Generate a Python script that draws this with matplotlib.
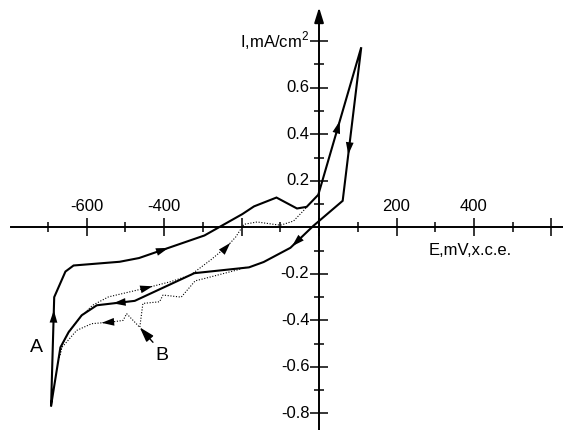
import matplotlib
matplotlib.use("Agg")
import matplotlib.pyplot as plt
from matplotlib.ticker import FixedLocator, NullFormatter

plt.rcParams["font.family"] = ["Liberation Sans", "DejaVu Sans"]
plt.rcParams["mathtext.fontset"] = "custom"
plt.rcParams["mathtext.rm"] = "Liberation Sans"

# curve A (solid), one closed sweep
a_E = [-692, -684, -655, -634, -515, -465, -296, -198, -168, -110, -57, -32, -2, 109,
       61, -15, -74, -143, -181, -322, -476, -574, -613, -647, -668, -692]
a_I = [-0.765, -0.30, -0.19, -0.164, -0.148, -0.132, -0.035, 0.057, 0.09, 0.128, 0.081, 0.088, 0.14, 0.774,
       0.114, 0.006, -0.088, -0.149, -0.172, -0.197, -0.316, -0.335, -0.378, -0.451, -0.516, -0.765]

# curve B (dotted), forward branch
b_fwd_E = [-671, -662, -645, -613, -585, -544, -450, -382, -331, -279, -237, -215, -198, -194,
           -160, -100, -66, -32]
b_fwd_I = [-0.56, -0.50, -0.445, -0.38, -0.335, -0.299, -0.262, -0.233, -0.204, -0.139, -0.081, -0.041,
           0.003, 0.013, 0.023, 0.009, 0.027, 0.086]

# curve B (dotted), reverse branch
b_rev_E = [-190, -211, -296, -320, -356, -403, -412, -455, -463, -497, -506, -536, -587, -626, -664, -671]
b_rev_I = [-0.172, -0.183, -0.22, -0.23, -0.30, -0.291, -0.32, -0.327, -0.43, -0.371, -0.40, -0.407,
           -0.414, -0.443, -0.516, -0.56]

x_major = [-600, -400, -200, 0, 200, 400, 600]
x_minor = [-700, -500, -300, -100, 100, 300, 500]
x_labels = {-600: "-600", -400: "-400", 200: "200", 400: "400"}
y_major = [-0.8, -0.6, -0.4, -0.2, 0.2, 0.4, 0.6, 0.8]
y_minor = [-0.7, -0.5, -0.3, -0.1, 0.1, 0.3, 0.5, 0.7]
y_labels = {-0.8: "-0.8", -0.6: "-0.6", -0.4: "-0.4", -0.2: "-0.2",
            0.2: "0.2", 0.4: "0.4", 0.6: "0.6", 0.8: "I,mA/cm$^2$"}

fig = plt.figure(figsize=(5.63, 4.30), dpi=100)
ax = fig.add_axes([0, 0, 1, 1])
ax.set_xlim(-824, 630)
ax.set_ylim(-0.871, 0.977)

ax.plot(a_E, a_I, color="black", lw=1.5, solid_joinstyle="miter")
ax.plot(b_fwd_E, b_fwd_I, color="black", lw=0.8, ls=(0, (1, 1.5)))
ax.plot(b_rev_E, b_rev_I, color="black", lw=0.8, ls=(0, (1, 1.5)))


def head(E, I, i, t):
    # arrow head along segment i of a curve, tip at fraction t
    x0, y0, x1, y1 = E[i], I[i], E[i + 1], I[i + 1]
    tip = (x0 + t * (x1 - x0), y0 + t * (y1 - y0))
    tail = (tip[0] - 0.02 * (x1 - x0), tip[1] - 0.02 * (y1 - y0))
    ax.annotate("", xy=tip, xytext=tail,
                arrowprops=dict(arrowstyle="-|>,head_length=0.9,head_width=0.28",
                                color="black", lw=0, shrinkA=0, shrinkB=0,
                                mutation_scale=10))


head(a_E, a_I, 0, 0.88)
head(a_E, a_I, 5, 0.45)
head(a_E, a_I, 12, 0.5)
head(a_E, a_I, 13, 0.70)
head(a_E, a_I, 15, 0.93)
head(a_E, a_I, 20, 0.57)
head(b_fwd_E, b_fwd_I, 6, 0.3)
head(b_fwd_E, b_fwd_I, 10, 0.35)
head(b_rev_E, b_rev_I, 11, 0.5)

# axes through the origin
for s in ["top", "right"]:
    ax.spines[s].set_visible(False)
ax.spines["left"].set_position(("data", 0))
ax.spines["bottom"].set_position(("data", 0))
ax.spines["left"].set_bounds(-0.87, 0.92)
ax.spines["bottom"].set_bounds(-795, 630)
ax.spines["left"].set_linewidth(1.4)
ax.spines["bottom"].set_linewidth(1.4)
ax.annotate("", xy=(0, 0.945), xytext=(0, 0.90),
            arrowprops=dict(arrowstyle="-|>,head_length=0.9,head_width=0.28",
                            color="black", lw=1.4, shrinkA=0, shrinkB=0, mutation_scale=10))

ax.xaxis.set_major_locator(FixedLocator(x_major))
ax.xaxis.set_minor_locator(FixedLocator(x_minor))
ax.yaxis.set_major_locator(FixedLocator(y_major))
ax.yaxis.set_minor_locator(FixedLocator(y_minor))
ax.xaxis.set_major_formatter(NullFormatter())
ax.yaxis.set_major_formatter(NullFormatter())
ax.tick_params(which="major", direction="inout", length=13, width=1.1)
ax.tick_params(which="minor", direction="inout", length=6.5, width=1.1)

for v, s in x_labels.items():
    ax.annotate(s, xy=(v, 0), xytext=(0, 15), textcoords="offset points",
                ha="center", va="center", fontsize=12)
for v, s in y_labels.items():
    ax.annotate(s, xy=(0, v), xytext=(-7, 0), textcoords="offset points",
                ha="right", va="center", fontsize=12)

ax.text(390, -0.098, "E,mV,x.c.e.", ha="center", va="center", fontsize=12)
ax.text(-730, -0.515, "A", ha="center", va="center", fontsize=14)
ax.text(-406, -0.552, "B", ha="center", va="center", fontsize=14)
ax.annotate("", xy=(-463, -0.43), xytext=(-429, -0.494),
            arrowprops=dict(arrowstyle="-|>,head_length=0.9,head_width=0.28",
                            color="black", lw=1.0, shrinkA=0, shrinkB=0, mutation_scale=10))

fig.savefig("out.png", dpi=100)
